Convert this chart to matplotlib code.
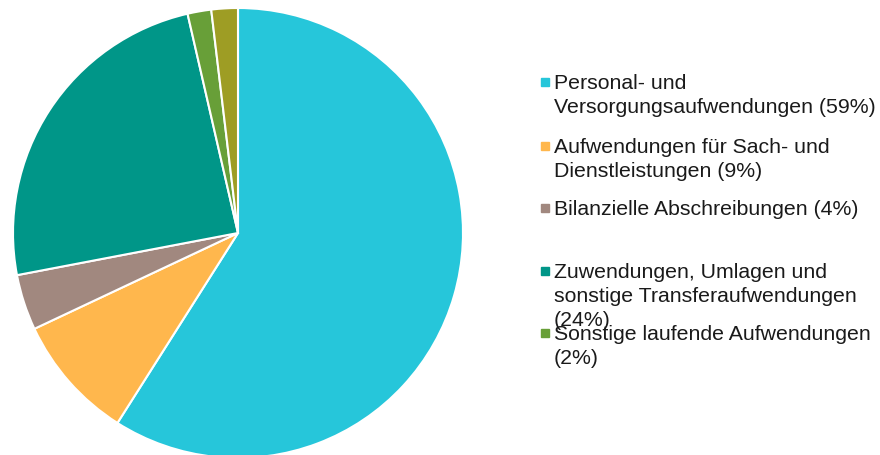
import matplotlib
matplotlib.use("Agg")
import matplotlib.pyplot as plt

plt.rcParams['font.family'] = ['Liberation Sans', 'DejaVu Sans']

categories = [
    "Personal- und\nVersorgungsaufwendungen (59%)",
    "Aufwendungen für Sach- und\nDienstleistungen (9%)",
    "Bilanzielle Abschreibungen (4%)",
    "Zuwendungen, Umlagen und\nsonstige Transferaufwendungen\n(24%)",
    "Sonstige laufende Aufwendungen\n(2%)",
    "Übrige Aufwendungen (2%)",
]
values = [59.0, 9.0, 4.0, 24.4, 1.7, 1.9]
colors = ["#26C6DA", "#FFB74D", "#A1887F", "#009688", "#689F38", "#9E9D24"]
legend_shown = 5

W, H = 880, 455
fig = plt.figure(figsize=(W / 100, H / 100), dpi=100)

cx, cy, r = 238, 233, 225
ax = fig.add_axes([(cx - r) / W, (H - cy - r) / H, 2 * r / W, 2 * r / H])
ax.pie(values, colors=colors, startangle=90, counterclock=False, radius=1,
       wedgeprops=dict(edgecolor="white", linewidth=1.5))
ax.set_xlim(-1, 1)
ax.set_ylim(-1, 1)
ax.set_aspect('auto')
ax.axis('off')

# legend drawn manually (fixed slots, as in reference)
slot_y = [82, 146, 208, 271, 333]
for i in range(legend_shown):
    y = slot_y[i]
    fig.patches.append(plt.Rectangle(((541) / W, (H - y - 4) / H), 8 / W, 8 / H,
                                     transform=fig.transFigure, color=colors[i],
                                     figure=fig))
    fig.text(554 / W, (H - y + 8) / H, categories[i], fontsize=15.3,
             color="#1a1a1a", ha="left", va="top", linespacing=1.34)

fig.savefig("out.png", dpi=100)
